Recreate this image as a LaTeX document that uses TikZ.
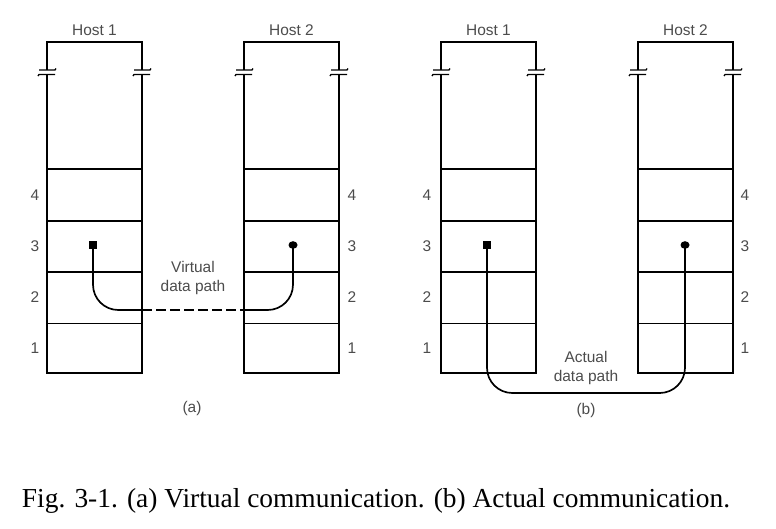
\documentclass[tikz,border=0pt]{standalone}
\usepackage{fontspec}
\setmainfont{Liberation Serif}
\newfontfamily\hostfont{Liberation Sans}
\begin{document}
\begin{tikzpicture}[x=0.025cm,y=-0.025cm,
    stackline/.style={line width=1.3pt},
    thinline/.style={line width=0.7pt},
    breakline/.style={line width=0.9pt},
    pathline/.style={line width=1.2pt},
    lbl/.style={text=black!70,font=\hostfont\fontsize{11}{13.5}\selectfont,align=center,inner sep=0pt}]
    \useasboundingbox (0,0) rectangle (776,528);
    % the four protocol stacks
    \foreach \x/\h in {47/1,244/2,441/1,638/2} {
        \draw [stackline] (\x,70) -- (\x,42) -- (\x+95,42) -- (\x+95,70);
        \draw [stackline] (\x,74.5) -- (\x,373) -- (\x+95,373) -- (\x+95,74.5);
        \foreach \e in {0,95} {
            \draw [breakline] (\x+\e-8,70) -- (\x+\e+8,70) -- (\x+\e+9,68.5);
            \draw [breakline] (\x+\e-9,76) -- (\x+\e-8,74.5) -- (\x+\e+8,74.5);
        }
        \foreach \y in {169,221,272} \draw [stackline] (\x,\y) -- (\x+95,\y);
        \draw [thinline] (\x,323) -- (\x+95,323);
        \node [lbl] (host-\x) at (\x+47.5,30) {Host \h};
    }
    % layer numbers
    \foreach \x/\y/\n in {35/195/4,35/246/3,35/297/2,35/348/1} {
        \node [lbl] (la-\n) at (\x,\y) {\n};
        \node [lbl] (ra-\n) at (\x+317,\y) {\n};
        \node [lbl] (lb-\n) at (\x+392,\y) {\n};
        \node [lbl] (rb-\n) at (\x+710,\y) {\n};
    }
    % (a) virtual communication
    \fill (89,241) rectangle (97,249);
    \coordinate (a-src) at (93,245);
    \fill (293,245) ellipse [x radius=4.5,y radius=3.8];
    \coordinate (a-dst) at (293,245);
    \coordinate (a-l) at (142,310);
    \coordinate (a-r) at (244,310);
    \draw [pathline,rounded corners=18] (a-src) -- (a-src |- a-l) -- (a-l);
    \draw [pathline,dash pattern=on 7pt off 3pt] (a-l) -- (a-r);
    \draw [pathline,rounded corners=18] (a-r) -- (a-dst |- a-r) -- (a-dst);
    \node [lbl] (a-text) at (193,278) {Virtual\\data path};
    \node [lbl] (a-cap) at (192,408) {(a)};
    % (b) actual communication
    \fill (483,241) rectangle (491,249);
    \coordinate (b-src) at (487,245);
    \fill (685,245) ellipse [x radius=4.5,y radius=3.8];
    \coordinate (b-dst) at (685,245);
    \coordinate (b-low) at (586,393);
    \draw [pathline,rounded corners=18] (b-src) -- (b-src |- b-low) -- (b-dst |- b-low) -- (b-dst);
    \node [lbl] (b-text) at (586,368) {Actual\\data path};
    \node [lbl] (b-cap) at (586,410) {(b)};
    % caption
    \node [anchor=base,inner sep=0pt,font=\fontsize{19.5}{22}\selectfont] (caption) at (376,507)
        {Fig. 3-1. (a) Virtual communication. (b) Actual communication.};
\end{tikzpicture}
\end{document}
